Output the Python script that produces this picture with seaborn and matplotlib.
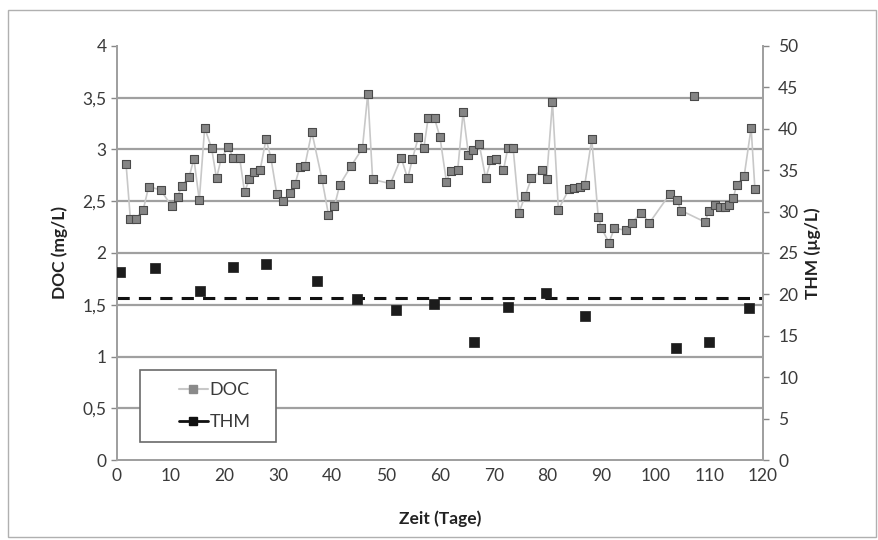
import matplotlib
matplotlib.use("Agg")
import matplotlib.pyplot as plt
import matplotlib.patches as mpatches
from matplotlib.lines import Line2D
import seaborn as sns
import pandas as pd

# DOC-Messwerte (mg/L) über die Zeit (Tage)
doc_tage = [1.7, 2.5, 3.5, 4.9, 5.9, 8.1, 10.2, 11.3, 12.0, 13.4, 14.3, 15.3, 16.3,
            17.6, 18.5, 19.4, 20.7, 21.6, 22.8, 23.7, 24.6, 25.5, 26.6, 27.7, 28.6,
            29.7, 30.9, 32.1, 33.1, 34.0, 34.9, 36.2, 38.1, 39.3, 40.4, 41.4, 43.5,
            45.6, 46.6, 47.5, 50.8, 52.8, 54.0, 54.9, 56.0, 57.0, 57.8, 59.0, 60.0,
            61.2, 62.0, 63.3, 64.3, 65.3, 66.2, 67.3, 68.5, 69.5, 70.4, 71.8, 72.6,
            73.6, 74.7, 75.8, 77.0, 78.9, 79.8, 80.9, 82.0, 84.0, 84.9, 86.0, 86.9,
            88.2, 89.4, 90.0, 91.4, 92.4, 94.5, 95.6, 97.4, 98.9, 102.7, 104.0, 104.8,
            107.1, 109.2, 110.0, 111.1, 112.0, 112.9, 113.6, 114.5, 115.1, 116.5,
            117.8, 118.5]
doc_werte = [2.86, 2.33, 2.33, 2.42, 2.64, 2.61, 2.45, 2.54, 2.65, 2.73, 2.91, 2.51, 3.21,
             3.01, 2.72, 2.92, 3.02, 2.92, 2.92, 2.59, 2.71, 2.78, 2.80, 3.10, 2.92,
             2.57, 2.50, 2.58, 2.67, 2.83, 2.84, 3.17, 2.71, 2.37, 2.45, 2.66, 2.84,
             3.01, 3.54, 2.71, 2.67, 2.92, 2.72, 2.91, 3.12, 3.01, 3.30, 3.30, 3.12,
             2.69, 2.79, 2.80, 3.36, 2.95, 2.99, 3.05, 2.72, 2.90, 2.91, 2.80, 3.01,
             3.01, 2.39, 2.55, 2.72, 2.80, 2.71, 3.46, 2.42, 2.62, 2.63, 2.64, 2.66,
             3.10, 2.35, 2.24, 2.10, 2.24, 2.22, 2.29, 2.39, 2.29, 2.57, 2.51, 2.41,
             3.52, 2.30, 2.41, 2.46, 2.44, 2.44, 2.46, 2.53, 2.66, 2.74,
             3.21, 2.62]
# einzelner Messpunkt ohne Verbindungslinie
doc_isoliert = [107.1]

# THM-Messwerte (µg/L)
thm_tage = [0.6, 7.1, 15.4, 21.5, 27.6, 37.2, 44.6, 51.8, 58.9, 66.3, 72.6, 79.7,
            86.9, 103.8, 109.9, 117.4]
thm_werte = [22.7, 23.2, 20.4, 23.3, 23.7, 21.6, 19.4, 18.1, 18.8, 14.3, 18.5, 20.2,
             17.4, 13.5, 14.3, 18.4]
thm_grenze = 19.6

links_ticks = [0, 0.5, 1, 1.5, 2, 2.5, 3, 3.5, 4]
rechts_ticks = [0, 5, 10, 15, 20, 25, 30, 35, 40, 45, 50]
x_ticks = list(range(0, 121, 10))

sns.set_style("white")
plt.rcParams["font.family"] = ["Lato", "DejaVu Sans"]

df_doc = pd.DataFrame({"Tag": doc_tage, "DOC": doc_werte})
df_doc["seg"] = [1 if t in doc_isoliert else 0 for t in doc_tage]
df_thm = pd.DataFrame({"Tag": thm_tage, "THM": thm_werte})

tick_col = "#3a3a3a"
grid_col = "#a0a0a0"

fig = plt.figure(figsize=(8.79, 5.40), dpi=100)
ax = fig.add_axes([0.133, 0.148, 0.735, 0.767])
ax2 = ax.twinx()

# Gitterlinien
for v in links_ticks[1:-1]:
    ax.axhline(v, color=grid_col, lw=1.6, zorder=0)

sns.lineplot(data=df_doc, x="Tag", y="DOC", units="seg", estimator=None,
             color="#c8c8c8", lw=1.2, ax=ax, zorder=2, legend=False)
sns.scatterplot(data=df_doc, x="Tag", y="DOC", marker="s", s=38, color="#858585",
                edgecolor="#4a4a4a", linewidth=0.8, ax=ax, zorder=3, legend=False)

ax2.axhline(thm_grenze, color="#111111", lw=2.2, ls=(0, (4, 3)), zorder=2)
sns.scatterplot(data=df_thm, x="Tag", y="THM", marker="s", s=46, color="#1c1c1c",
                edgecolor="#1c1c1c", linewidth=0.5, ax=ax2, zorder=3, legend=False)

ax.set_xlim(0, 120)
ax.set_ylim(0, 4)
ax2.set_ylim(0, 50)
ax.set_xticks(x_ticks)
ax.set_yticks(links_ticks)
ax.set_yticklabels([f"{v:g}".replace(".", ",") for v in links_ticks])
ax2.set_yticks(rechts_ticks)

ax.tick_params(axis="both", labelsize=12.5, colors="#888888", labelcolor=tick_col,
               length=4, width=1, direction="out")
ax.tick_params(axis="x", length=0, pad=6)
ax2.tick_params(axis="y", labelsize=12.5, colors="#888888", labelcolor=tick_col,
                length=4, width=1, direction="out", pad=7)

ax.set_xlabel("Zeit (Tage)", fontsize=12.5, fontweight="bold", color="#222222", labelpad=19)
ax.set_ylabel("DOC (mg/L)", fontsize=12.5, fontweight="bold", color="#222222", labelpad=10)
ax2.set_ylabel("THM (µg/L)", fontsize=12.5, fontweight="bold", color="#222222", labelpad=4)

for a in (ax, ax2):
    a.spines["top"].set_visible(False)
    for s in ("left", "right", "bottom"):
        a.spines[s].set_color(grid_col)
        a.spines[s].set_linewidth(1.4)

# Legende mit Rahmen
leg_x, leg_y, leg_w, leg_h = 0.036, 0.043, 0.21, 0.174
rahmen = mpatches.Rectangle((leg_x, leg_y), leg_w, leg_h, transform=ax.transAxes,
                            facecolor="white", edgecolor="#6a6a6a", lw=1.2, zorder=5)
ax2.add_patch(rahmen)
handles = [
    Line2D([], [], color="#c8c8c8", lw=1.5, marker="s", markersize=6,
           markerfacecolor="#8a8a8a", markeredgecolor="#8a8a8a"),
    Line2D([], [], color="#111111", lw=2, marker="s", markersize=6,
           markerfacecolor="#111111"),
]
leg = ax2.legend(handles, ["DOC", "THM"], loc="center",
                 bbox_to_anchor=(leg_x + leg_w / 2 + 0.01, leg_y + leg_h / 2),
                 frameon=False, fontsize=13, handlelength=1.6, handletextpad=0.1,
                 labelspacing=0.9)
leg.set_zorder(6)
for t in leg.get_texts():
    t.set_color(tick_col)

# äußerer Diagrammrahmen
fig.patches.append(mpatches.Rectangle((0.009, 0.005), 0.988, 0.976, transform=fig.transFigure,
                                      fill=False, edgecolor="#b0b0b0", lw=1))

fig.savefig("out.png", dpi=100)
